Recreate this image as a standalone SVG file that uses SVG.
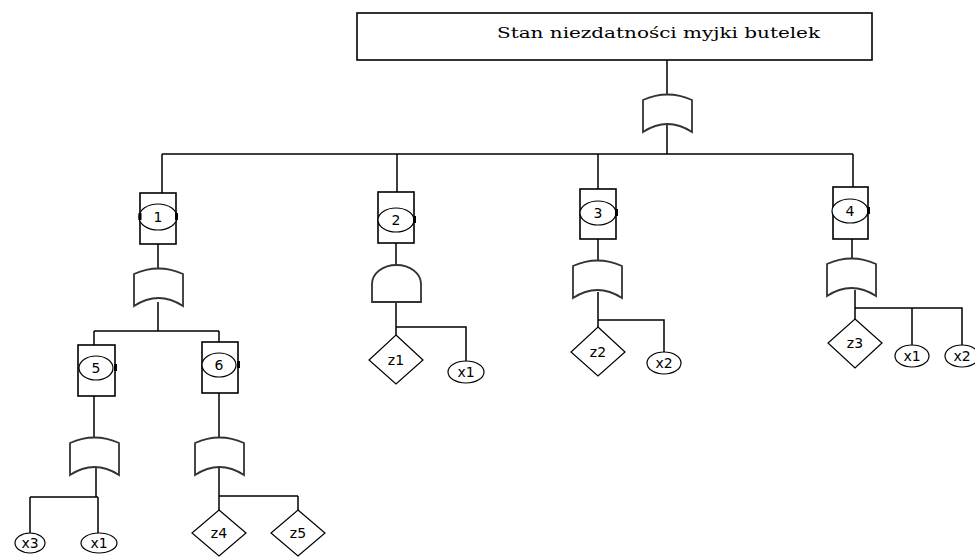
<svg xmlns="http://www.w3.org/2000/svg" width="975" height="557" viewBox="0 0 975 557">
<style>
.ln{stroke:#000;stroke-width:1.5;fill:none}
.box{fill:#fff;stroke:#000;stroke-width:1.6}
.gate{fill:#fff;stroke:#333;stroke-width:1.8}
.ell{fill:#fff;stroke:#000;stroke-width:1.2}
.dia{fill:#fff;stroke:#000;stroke-width:1.2}
.mk{fill:#000}
.lb{font-family:"DejaVu Sans",sans-serif;font-size:14px;text-anchor:middle;fill:#000}
.tt{font-family:"DejaVu Serif","Liberation Serif",serif;font-size:14px;fill:#000}
</style>
<defs>
<path id="or" d="M0,6 Q24.5,-5 49,6 L49,38 Q24.5,22 0,38 Z"/>
<path id="and" d="M0,37 L0,19 A24.5,19 0 0 1 49,19 L49,37 Z"/>
</defs>
<g id="connectors">
<path class="ln" d="M667,60 V94 M667,125 V154 M162,154 H853 M162,154 V193 M397,154 V192 M598,154 V189 M853,154 V187"/>
<path class="ln" d="M158,244 V268 M158,302 V331 M94,331 H219 M94,331 V345 M219,331 V342"/>
<path class="ln" d="M94,396 V437 M96,468 V497 M30,497 H98 M30,497 V533 M98,497 V533"/>
<path class="ln" d="M219,393 V437 M219,468 V496 H298 M298,496 V510 M219,496 V510"/>
<path class="ln" d="M396,243 V265 M396,302 V327 H466 V361 M396,327 V335"/>
<path class="ln" d="M598,239 V260 M598,292 V320 H664 V352 M598,320 V327"/>
<path class="ln" d="M852,239 V258 M855,290 V308 H962 V346 M912,308 V346 M855,308 V319"/>
</g>
<g id="top">
<rect class="box" x="357" y="13" width="515" height="47"/>
<text class="tt" x="497" y="38" textLength="323" lengthAdjust="spacingAndGlyphs">Stan niezdatności myjki butelek</text>
</g>
<g id="gate-top"><use href="#or" class="gate" x="643" y="94"/></g>
<g id="n1">
<rect class="box" x="140" y="193" width="36" height="51"/>
<ellipse class="ell" cx="158" cy="217" rx="19" ry="13"/>
<rect class="mk" x="138.5" y="213" width="3" height="7"/><rect class="mk" x="175" y="213" width="3" height="7"/>
<text class="lb" x="158" y="222">1</text>
</g>
<g id="g1"><use href="#or" class="gate" x="134" y="268"/></g>
<g id="n2">
<rect class="box" x="378" y="192" width="36" height="51"/>
<ellipse class="ell" cx="396" cy="220" rx="18" ry="12"/>
<rect class="mk" x="413" y="216" width="3" height="7"/>
<text class="lb" x="396" y="225">2</text>
</g>
<g id="g2"><use href="#and" class="gate" x="372" y="265"/></g>
<g id="n3">
<rect class="box" x="580" y="189" width="36" height="50"/>
<ellipse class="ell" cx="598" cy="213" rx="18" ry="12"/>
<rect class="mk" x="615" y="209" width="3" height="7"/>
<text class="lb" x="598" y="218">3</text>
</g>
<g id="g3"><use href="#or" class="gate" x="573" y="260"/></g>
<g id="n4">
<rect class="box" x="833" y="187" width="35" height="52"/>
<ellipse class="ell" cx="850" cy="211" rx="18" ry="12"/>
<rect class="mk" x="867" y="207" width="3" height="7"/>
<text class="lb" x="850" y="216">4</text>
</g>
<g id="g4"><use href="#or" class="gate" x="827" y="258"/></g>
<g id="n5">
<rect class="box" x="78" y="345" width="37" height="51"/>
<ellipse class="ell" cx="96" cy="368" rx="17" ry="12"/>
<rect class="mk" x="114" y="364" width="3" height="7"/>
<text class="lb" x="96" y="373">5</text>
</g>
<g id="g5"><use href="#or" class="gate" x="70" y="437"/></g>
<g id="n6">
<rect class="box" x="202" y="342" width="36" height="51"/>
<ellipse class="ell" cx="219" cy="365" rx="17" ry="12"/>
<rect class="mk" x="237" y="361" width="3" height="7"/>
<text class="lb" x="219" y="370">6</text>
</g>
<g id="g6"><use href="#or" class="gate" x="195" y="437"/></g>
<g id="x3a"><ellipse class="ell" cx="30" cy="543" rx="15" ry="10"/><text class="lb" x="30" y="548">x3</text></g>
<g id="x1a"><ellipse class="ell" cx="99" cy="543" rx="18" ry="10"/><text class="lb" x="99" y="548">x1</text></g>
<g id="z4"><path class="dia" d="M219,510 L246,533 L219,556 L192,533 Z"/><text class="lb" x="219" y="538">z4</text></g>
<g id="z5"><path class="dia" d="M298,510 L325,533 L298,556 L271,533 Z"/><text class="lb" x="298" y="538">z5</text></g>
<g id="z1"><path class="dia" d="M396,335 L423,360 L396,384 L369,360 Z"/><text class="lb" x="396" y="365">z1</text></g>
<g id="x1b"><ellipse class="ell" cx="466" cy="372" rx="18" ry="11"/><text class="lb" x="466" y="377">x1</text></g>
<g id="z2"><path class="dia" d="M598,327 L625,352 L598,376 L571,352 Z"/><text class="lb" x="598" y="357">z2</text></g>
<g id="x2a"><ellipse class="ell" cx="664" cy="363" rx="17" ry="11"/><text class="lb" x="664" y="368">x2</text></g>
<g id="z3"><path class="dia" d="M855,319 L882,343 L855,368 L828,343 Z"/><text class="lb" x="855" y="348">z3</text></g>
<g id="x1c"><ellipse class="ell" cx="912" cy="356" rx="17" ry="11"/><text class="lb" x="912" y="361">x1</text></g>
<g id="x2b"><ellipse class="ell" cx="962" cy="356" rx="17" ry="11"/><text class="lb" x="962" y="361">x2</text></g>
</svg>
